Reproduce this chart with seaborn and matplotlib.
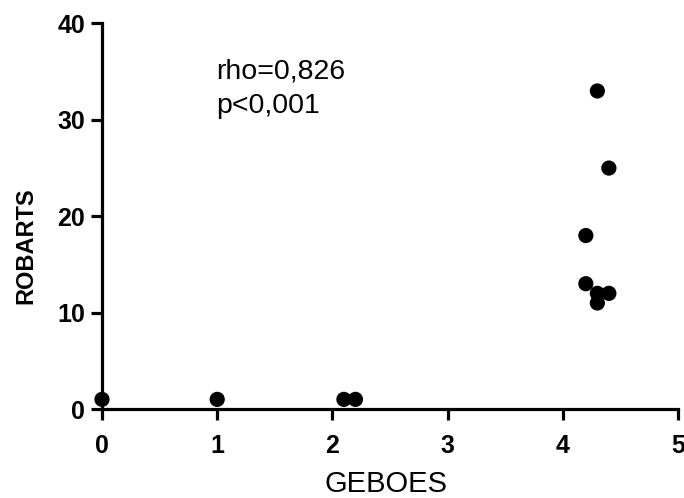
import matplotlib
matplotlib.use("Agg")
import matplotlib.pyplot as plt
import seaborn as sns
import pandas as pd

# GEBOES vs ROBARTS histological scores per patient
geboes = [0.0, 1.0, 2.1, 2.2, 4.3, 4.4, 4.2, 4.2, 4.3, 4.4, 4.3]
robarts = [1, 1, 1, 1, 33, 25, 18, 13, 12, 12, 11]

x_ticks = [0, 1, 2, 3, 4, 5]
y_ticks = [0, 10, 20, 30, 40]
stats_lines = ["rho=0,826", "p<0,001"]

df = pd.DataFrame({"GEBOES": geboes, "ROBARTS": robarts})

sns.set_style("ticks")
plt.rcParams["font.family"] = ["Liberation Sans", "DejaVu Sans"]
plt.rcParams.update({
    "text.color": "black",
    "axes.labelcolor": "black",
    "xtick.color": "black",
    "ytick.color": "black",
    "axes.edgecolor": "black",
})

fig = plt.figure(figsize=(6.84, 4.98), dpi=100)
ax = fig.add_axes([102 / 684, 1 - 409 / 498, 576 / 684, 385.5 / 498])

sns.scatterplot(data=df, x="GEBOES", y="ROBARTS", ax=ax, color="black",
                s=120, edgecolor="none", clip_on=False, zorder=4, legend=False)

ax.set_xlim(0, 5)
ax.set_ylim(0, 40)
ax.set_xticks(x_ticks)
ax.set_yticks(y_ticks)
ax.set_xticklabels([str(t) for t in x_ticks], fontsize=18, fontweight="bold")
ax.set_yticklabels([str(t) for t in y_ticks], fontsize=18, fontweight="bold")

for side in ("top", "right"):
    ax.spines[side].set_visible(False)
for side in ("left", "bottom"):
    ax.spines[side].set_linewidth(2.3)

ax.tick_params(axis="both", direction="out", length=8, width=2.3)
ax.tick_params(axis="x", pad=10)
ax.tick_params(axis="y", pad=4)

ax.set_xlabel("GEBOES", fontsize=21, va="baseline")
ax.xaxis.set_label_coords(0.493, -0.215)
ax.set_ylabel("ROBARTS", fontsize=17, fontweight="bold", va="baseline")
ax.yaxis.set_label_coords(-0.1215, 0.423)

ax.text(0.198, (409 - 78) / 385.5, stats_lines[0], transform=ax.transAxes,
        fontsize=20.5, va="baseline", ha="left")
ax.text(0.198, (409 - 113) / 385.5, stats_lines[1], transform=ax.transAxes,
        fontsize=20.5, va="baseline", ha="left")

fig.savefig("out.png", dpi=100)
